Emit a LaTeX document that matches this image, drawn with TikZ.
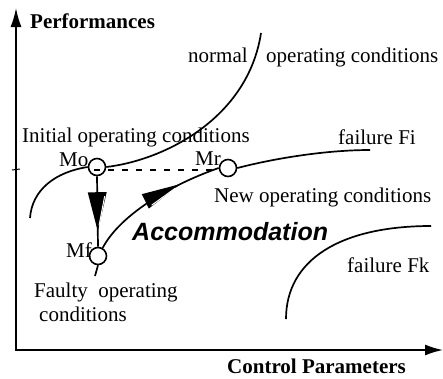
\documentclass[tikz,border=0pt]{standalone}
\usepackage{fontspec}
\setmainfont{Liberation Serif}
\newfontfamily\accfont{Liberation Sans}
\usetikzlibrary{arrows.meta,decorations.markings}

\begin{document}
\begin{tikzpicture}[x=1pt,y=-1pt,
  curve/.style={line width=1.7pt},
  axis/.style={line width=1.7pt,{Latex[length=19pt,width=11pt]}-{Latex[length=18pt,width=11pt]}},
  txt/.style={font=\fontsize{21}{25}\selectfont, inner sep=0pt, anchor=base west},
  state/.style={circle, draw, line width=1.6pt, fill=white, minimum size=17pt, inner sep=0pt},
  % large filled head placed along a path; #2 picks the side of the light edge, #3 is the half width
  bigtip/.style n args={3}{decoration={markings, mark=at position #1 with {
      \fill (0,0) -- (-39,#3) -- (-39,-#3) -- cycle;
      \draw[white, line width=1pt] (-6,#2*1.4) -- (-35,#2*#3*0.78);}},
    postaction={decorate}}]
\useasboundingbox (0,0) rectangle (443,378);

% axes
\coordinate (ytip) at (16,8);
\coordinate (origin) at (16,350);
\coordinate (xtip) at (443,350);
\draw[axis] (ytip) -- (origin) -- (xtip);
\coordinate (tickL) at (12,170);
\coordinate (tickR) at (20,169);
\draw[line width=1pt] (tickL) -- (tickR);

% operating points
\node[state] (Mo) at (97,167) {};
\node[state] (Mr) at (228,168) {};
\node[state] (Mf) at (98,256) {};

% normal operating curve
\coordinate (N0) at (30,218);
\coordinate (N1) at (261,33);
\draw[curve] (N0) .. controls (32,190) and (55,172) .. (Mo.west);
\draw[curve] (Mo.east) .. controls (165,160) and (248,118) .. (N1);

% failure Fi curve
\coordinate (F0) at (95,276);
\coordinate (F1) at (370,150);
\draw[curve] (Mf.south) -- (F0);
\draw[curve, bigtip={0.71}{1}{8}] (Mf.60) .. controls (120,215) and (170,185) .. (Mr.west);
\draw[curve] (Mr.east) .. controls (280,157) and (330,150) .. (F1);

% failure Fk curve
\coordinate (K0) at (286,319);
\coordinate (K1) at (431,226);
\draw[curve] (K0) .. controls (286,260) and (340,226) .. (K1);

% fault transition and reference level
\draw[curve, bigtip={0.78}{-1}{9.5}] (Mo.south) -- (Mf.north);
\coordinate (D0) at (94,170);
\coordinate (D1) at (219,170);
\draw[line width=1.3pt, dash pattern=on 6pt off 8pt] (D0) -- (D1);

% labels
\node[txt, font=\fontsize{21}{25}\selectfont\bfseries] (perf) at (30,28) {Performances};
\node[txt] (normal) at (188,62) {normal};
\node[txt] (opcond) at (266,62) {operating conditions};
\node[txt] (init) at (22,142) {Initial operating conditions};
\node[txt] (moL) at (59,166) {Mo};
\node[txt] (mrL) at (195,165) {Mr};
\node[txt] (fi) at (338,144) {failure Fi};
\node[txt] (new) at (214,202) {New operating conditions};
\node[txt, font=\accfont\bfseries\itshape\fontsize{25}{30}\selectfont] (acc) at (132,240) {Accommodation};
\node[txt] (mfL) at (66,257) {Mf};
\node[txt] (faulty) at (34,297) {Faulty\ \ operating};
\node[txt] (faulty2) at (39,321) {conditions};
\node[txt] (fk) at (347,272) {failure Fk};
\node[txt, font=\fontsize{21}{25}\selectfont\bfseries] (ctrl) at (227,373) {Control Parameters};
\end{tikzpicture}
\end{document}
